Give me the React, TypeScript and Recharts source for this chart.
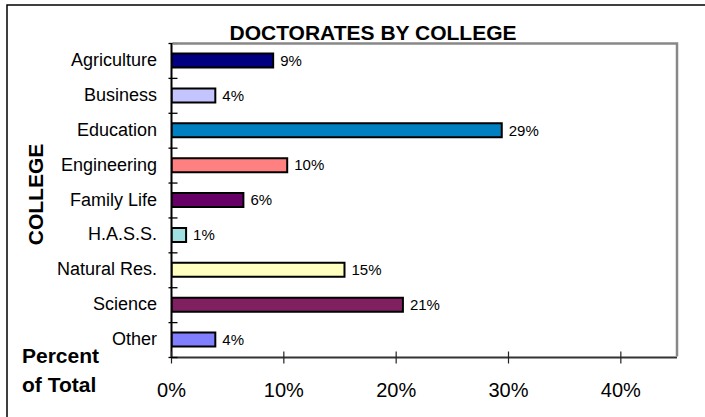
import React from 'react';
import { BarChart, Bar, XAxis, YAxis, Cell, LabelList } from 'recharts';

const colleges = [
  'Agriculture',
  'Business',
  'Education',
  'Engineering',
  'Family Life',
  'H.A.S.S.',
  'Natural Res.',
  'Science',
  'Other',
];
const percents = [9.05, 3.9, 29.4, 10.3, 6.4, 1.3, 15.4, 20.6, 3.9];
const barColors = [
  '#000080',
  '#C4C4FF',
  '#0080C0',
  '#FF8080',
  '#660066',
  '#A0E0E0',
  '#FFFFC0',
  '#802060',
  '#8080FF',
];
const xTicks = [0, 10, 20, 30, 40];
const xDomain = [0, 45];

const data = colleges.map((name, i) => ({ name, value: percents[i] }));

const W = 705;
const H = 417;
const PLOT_LEFT = 171.5;
const PLOT_RIGHT = 677;
const PLOT_TOP = 43.5;
const PLOT_BOTTOM = 357.5;
const FONT = '"Liberation Sans", Arial, Helvetica, sans-serif';

const YTick = (props: any) => {
  const { x, y, payload } = props;
  const idx = colleges.indexOf(payload.value);
  const band = (PLOT_BOTTOM - PLOT_TOP) / colleges.length;
  return (
    <g>
      <line x1={x - 3} x2={x + 6} y1={y - band / 2} y2={y - band / 2} stroke="#000" strokeWidth={1.3} />
      {idx === colleges.length - 1 && (
        <line x1={x - 3} x2={x + 6} y1={y + band / 2} y2={y + band / 2} stroke="#000" strokeWidth={1.3} />
      )}
      <text x={x - 14.5} y={y + 5} textAnchor="end" fontSize={18} fontFamily={FONT} fill="#000">
        {payload.value}
      </text>
    </g>
  );
};

const XTick = (props: any) => {
  const { x, y, payload } = props;
  return (
    <g>
      <line x1={x} x2={x} y1={y - 6} y2={y + 6} stroke="#222" strokeWidth={1.2} />
      <text x={x} y={y + 39} textAnchor="middle" fontSize={20} fontFamily={FONT} fill="#000">
        {payload.value}%
      </text>
    </g>
  );
};

export default function App() {
  return (
    <div style={{ position: 'absolute', left: 0, top: 0, width: W, height: H, background: '#fff', fontFamily: FONT }}>
      <BarChart
        width={W}
        height={H}
        data={data}
        layout="vertical"
        margin={{ top: PLOT_TOP, right: W - PLOT_RIGHT, bottom: 0, left: 0 }}
      >
        <XAxis
          type="number"
          domain={xDomain}
          ticks={xTicks}
          allowDataOverflow
          height={H - PLOT_BOTTOM}
          tickSize={0}
          tickMargin={0}
          tickLine={false}
          tick={<XTick />}
          axisLine={{ stroke: '#333', strokeWidth: 2 }}
        />
        <YAxis
          type="category"
          dataKey="name"
          width={PLOT_LEFT}
          tickSize={0}
          tickMargin={0}
          tickLine={false}
          tick={<YTick />}
          interval={0}
          axisLine={{ stroke: '#000', strokeWidth: 2 }}
        />
        <Bar dataKey="value" barSize={14} stroke="#000" strokeWidth={2} isAnimationActive={false}>
          {data.map((d, i) => (
            <Cell key={d.name} fill={barColors[i]} />
          ))}
          <LabelList
            dataKey="value"
            position="right"
            offset={7}
            formatter={(v: any) => `${Math.round(Number(v))}%`}
            fontSize={15}
            fontFamily={FONT}
            fill="#000"
          />
        </Bar>
      </BarChart>
      <svg
        width={W}
        height={H}
        style={{ position: 'absolute', left: 0, top: 0, pointerEvents: 'none' }}
      >
        <rect x={7} y={5} width={W + 20} height={H + 20} fill="none" stroke="#000" strokeWidth={1.5} />
        <polyline
          points={`${PLOT_LEFT + 1},${PLOT_TOP} ${PLOT_RIGHT},${PLOT_TOP} ${PLOT_RIGHT},${PLOT_BOTTOM - 1}`}
          fill="none"
          stroke="#888"
          strokeWidth={2.5}
        />
        <text x={373} y={39.5} textAnchor="middle" fontSize={21} fontWeight="bold" fontFamily={FONT} fill="#000">
          DOCTORATES BY COLLEGE
        </text>
        <text
          transform="translate(42.5,194.5) rotate(-90)"
          textAnchor="middle"
          fontSize={21}
          fontWeight="bold"
          fontFamily={FONT}
          fill="#000"
        >
          COLLEGE
        </text>
        <text x={22} y={363} fontSize={21} fontWeight="bold" fontFamily={FONT} fill="#000">
          Percent
        </text>
        <text x={22} y={391.7} fontSize={21} fontWeight="bold" fontFamily={FONT} fill="#000">
          of Total
        </text>
      </svg>
    </div>
  );
}
